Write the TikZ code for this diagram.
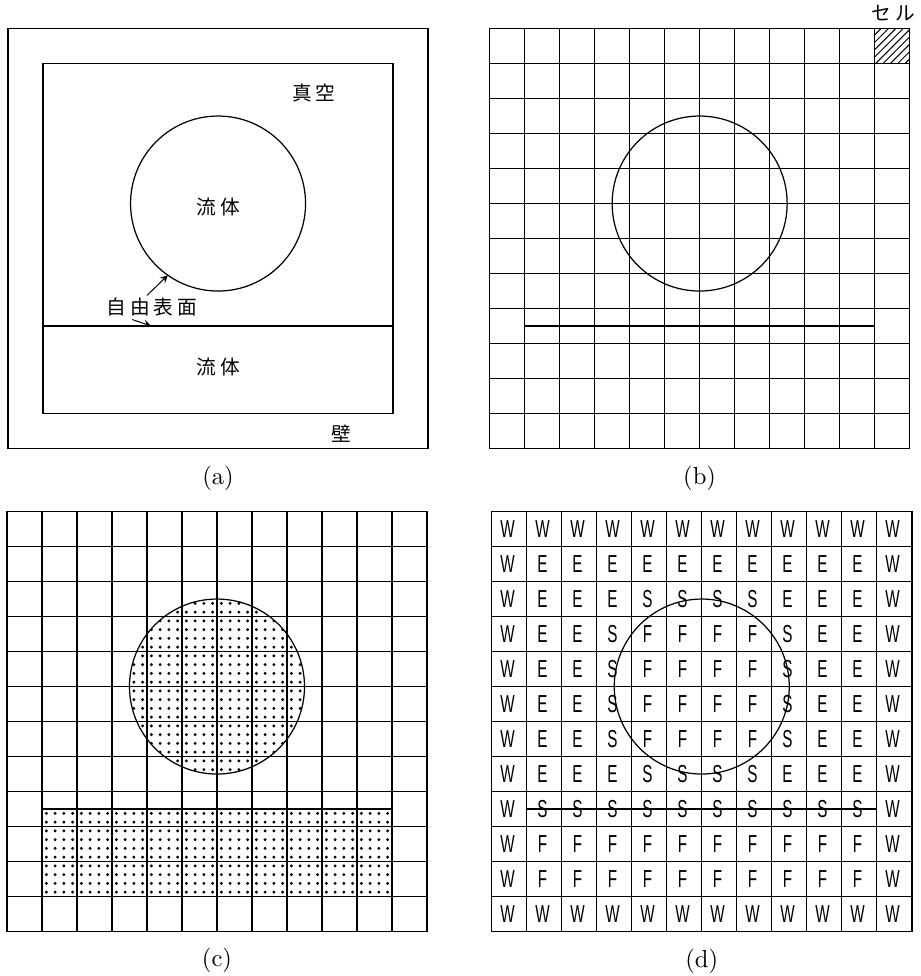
\documentclass[tikz,border=0pt]{standalone}
\usepackage{fontspec}
\newfontfamily\jp{Noto Sans CJK JP}
\newfontfamily\lettersf{Liberation Sans}
\usepackage{tikz}
\usetikzlibrary{patterns, arrows, calc}
\tikzstyle{wall} = [line width=0.6pt]
\tikzstyle{gridline} = [line width=0.5pt, step=1]
\tikzstyle{surface} = [line width=0.5pt]
\tikzstyle{jtext} = [font=\jp\fontsize{8}{9}\selectfont, inner sep=1pt]
\tikzstyle{subcap} = [font=\normalsize, inner sep=1pt]
\tikzstyle{cellmark} = [font=\lettersf\fontsize{10}{11}\selectfont, xscale=0.62, inner sep=0pt]
\tikzstyle{arrow} = [thin,->,>=stealth]
\tikzstyle{fluiddot} = [fill=black]
\newcommand{\jgap}{\hspace{0.2em}}

\begin{document}
\begin{tikzpicture}[x=0.5cm, y=0.5cm]
\useasboundingbox (0,0) rectangle (26.314,27.886);

% (a) Region
\begin{scope}[shift={(0.23,15.07)}]
\draw[wall] (0,0) rectangle (12,12);
\draw[wall] (1,1) rectangle (11,11);
\draw[surface] (6,7) circle (2.5);
\draw[surface] (1,3.5) -- (11,3.5);
\coordinate (drop_pt) at ($(6,7)+(235:2.5)$);
\coordinate (pool_pt) at (4.09,3.5);
\node (vacuum) [jtext] at (8.74,10.17) {真\jgap 空};
\node (drop_fluid) [jtext] at (6,6.9) {流\jgap 体};
\node (free_surface) [jtext] at (4.11,4.03) {自\jgap 由\jgap 表\jgap 面};
\node (pool_fluid) [jtext] at (6,2.34) {流\jgap 体};
\node (wall_label) [jtext] at (9.51,0.43) {壁};
\draw [arrow] ([xshift=-2pt]free_surface.north) -- (drop_pt);
\draw [arrow] ([xshift=-8pt]free_surface.south) -- (pool_pt);
\node (cap_a) [subcap] at (6,-0.85) {(a)};
\end{scope}

% (b) Cells
\begin{scope}[shift={(13.99,15.07)}]
\fill[pattern=north east lines] (11,11) rectangle (12,12);
\draw[gridline] (0,0) grid (12,12);
\draw[wall] (0,0) rectangle (12,12);
\draw[surface] (6,7) circle (2.5);
\draw[surface] (1,3.5) -- (11,3.5);
\node (cell_label) [jtext] at (11.54,12.43) {セ\jgap ル};
\node (cap_b) [subcap] at (6,-0.85) {(b)};
\end{scope}

% (c) Marker particles
\begin{scope}[shift={(0.2,1.27)}]
\begin{scope}
\clip (6,7) circle (2.5);
\foreach \i in {0,...,19}
  \foreach \j in {0,...,19}
    \fill[fluiddot] (3.625+\i*0.25, 4.625+\j*0.25) circle (0.65pt);
\end{scope}
\foreach \i in {0,...,39}
  \foreach \j in {0,...,9}
    \fill[fluiddot] (1.125+\i*0.25, 1.125+\j*0.25) circle (0.65pt);
\draw[gridline] (0,0) grid (12,12);
\draw[wall] (0,0) rectangle (12,12);
\draw[surface] (6,7) circle (2.5);
\draw[surface] (1,3.5) -- (11,3.5);
\node (cap_c) [subcap] at (6,-0.82) {(c)};
\end{scope}

% (d) Cell flags
\begin{scope}[shift={(14.05,1.27)}]
\draw[gridline] (0,0) grid (12,12);
\draw[wall] (0,0) rectangle (12,12);
\draw[surface] (6,7) circle (2.5);
\draw[surface] (1,3.5) -- (11,3.5);
\foreach \r/\cells in {
  0/{W,W,W,W,W,W,W,W,W,W,W,W},
  1/{W,E,E,E,E,E,E,E,E,E,E,W},
  2/{W,E,E,E,S,S,S,S,E,E,E,W},
  3/{W,E,E,S,F,F,F,F,S,E,E,W},
  4/{W,E,E,S,F,F,F,F,S,E,E,W},
  5/{W,E,E,S,F,F,F,F,S,E,E,W},
  6/{W,E,E,S,F,F,F,F,S,E,E,W},
  7/{W,E,E,E,S,S,S,S,E,E,E,W},
  8/{W,S,S,S,S,S,S,S,S,S,S,W},
  9/{W,F,F,F,F,F,F,F,F,F,F,W},
  10/{W,F,F,F,F,F,F,F,F,F,F,W},
  11/{W,W,W,W,W,W,W,W,W,W,W,W}}
{
  \foreach \c [count=\i from 0] in \cells
    \node (flag-\r-\i) [cellmark] at (\i+0.45, 11.5-\r) {\c};
}
\node (cap_d) [subcap] at (6,-0.85) {(d)};
\end{scope}

\end{tikzpicture}
\end{document}
